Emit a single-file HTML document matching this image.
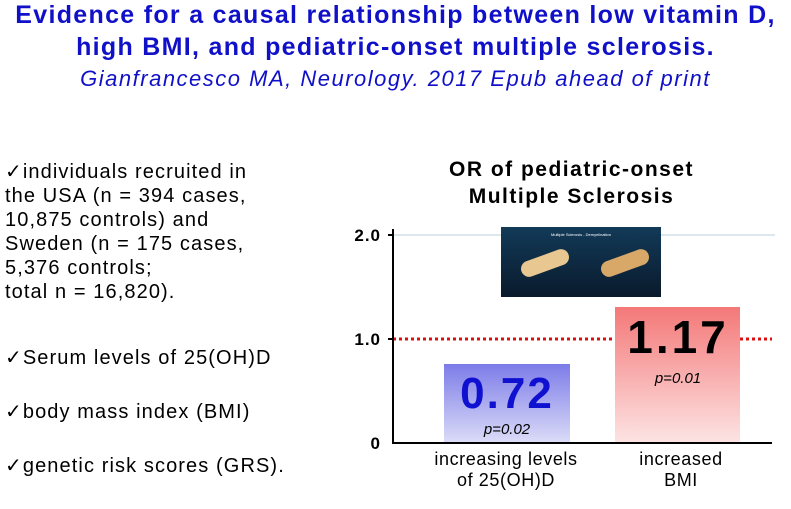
<!DOCTYPE html>
<html><head><style>
body{margin:0;width:791px;height:509px;background:#fff;position:relative;overflow:hidden;font-family:"Liberation Sans",sans-serif}
.a{position:absolute}
.t{left:0;width:791px;text-align:center;color:#1010c8;font-weight:bold;font-size:25px;letter-spacing:1.3px}
.l{left:5px;font-size:20px;color:#000;line-height:24px;letter-spacing:1.1px}
</style></head><body>
<div class="a t" style="top:1px">Evidence for a causal relationship between low vitamin D,</div>
<div class="a t" style="top:33px">high BMI, and pediatric-onset multiple sclerosis.</div>
<div class="a" style="left:0;width:791px;top:66px;text-align:center;color:#1010c8;font-style:italic;font-size:22px;letter-spacing:1.5px">Gianfrancesco MA, Neurology. 2017 Epub ahead of print</div>
<div class="a l" style="top:160px">✓individuals recruited in<br>the USA (n = 394 cases,<br>10,875 controls) and<br>Sweden (n = 175 cases,<br>5,376 controls;<br>total n = 16,820).</div>
<div class="a l" style="top:346px">✓Serum levels of 25(OH)D</div>
<div class="a l" style="top:400px">✓body mass index (BMI)</div>
<div class="a l" style="top:454px">✓genetic risk scores (GRS).</div>
<div class="a" style="left:400px;width:343px;top:156px;text-align:center;font-weight:bold;font-size:21px;line-height:27px;letter-spacing:1.5px">OR of pediatric-onset<br>Multiple Sclerosis</div>
<svg class="a" style="left:0;top:0" width="791" height="509">
<defs>
<linearGradient id="b" x1="0" y1="0" x2="0" y2="1"><stop offset="0" stop-color="#7c7ce8"/><stop offset="1" stop-color="#dcdcf8"/></linearGradient>
<linearGradient id="r" x1="0" y1="0" x2="0" y2="1"><stop offset="0" stop-color="#f47878"/><stop offset="1" stop-color="#fde4e4"/></linearGradient>
<linearGradient id="im" x1="0" y1="0" x2="0" y2="1"><stop offset="0" stop-color="#123a58"/><stop offset="1" stop-color="#0a1a2c"/></linearGradient>
</defs>
<line x1="393" y1="235" x2="775" y2="235" stroke="#b8d0dc" stroke-width="1"/>
<rect x="444" y="364" width="126" height="79" fill="url(#b)"/>
<rect x="615" y="307" width="125" height="136" fill="url(#r)"/>
<line x1="393" y1="339" x2="615" y2="339" stroke="#d81010" stroke-width="3" stroke-dasharray="3,3"/>
<line x1="740" y1="339" x2="772" y2="339" stroke="#d81010" stroke-width="3" stroke-dasharray="3,3"/>
<rect x="501" y="227" width="160" height="70" fill="url(#im)"/>
<rect x="520" y="255" width="50" height="16" rx="8" fill="#e8c890" transform="rotate(-20 545 263)"/>
<rect x="600" y="255" width="50" height="16" rx="8" fill="#d8a868" transform="rotate(-20 625 263)"/>
<text x="581" y="236" font-size="4" fill="#fff" text-anchor="middle">Multiple Sclerosis - Demyelination</text>
<line x1="393" y1="229" x2="393" y2="444" stroke="#000" stroke-width="2"/>
<line x1="392" y1="443" x2="772" y2="443" stroke="#000" stroke-width="2"/>
<line x1="388" y1="235" x2="393" y2="235" stroke="#000" stroke-width="2"/>
<line x1="388" y1="339" x2="393" y2="339" stroke="#000" stroke-width="2"/>
<g font-family="Liberation Sans" font-weight="bold" font-size="17" text-anchor="end" letter-spacing="1">
<text x="381" y="241">2.0</text><text x="381" y="345">1.0</text><text x="381" y="449">0</text></g>
<text x="507" y="408" font-size="44" font-weight="bold" fill="#1010d0" text-anchor="middle" letter-spacing="2">0.72</text>
<text x="507" y="434" font-size="15" font-style="italic" text-anchor="middle">p=0.02</text>
<text x="678" y="353" font-size="46" font-weight="bold" text-anchor="middle" letter-spacing="3">1.17</text>
<text x="678" y="383" font-size="15" font-style="italic" text-anchor="middle">p=0.01</text>
<g font-size="18" text-anchor="middle" letter-spacing="0.6"><text x="506" y="465">increasing levels</text><text x="506" y="486">of 25(OH)D</text>
<text x="681" y="465">increased</text><text x="681" y="486">BMI</text></g>
</svg>
</body></html>
